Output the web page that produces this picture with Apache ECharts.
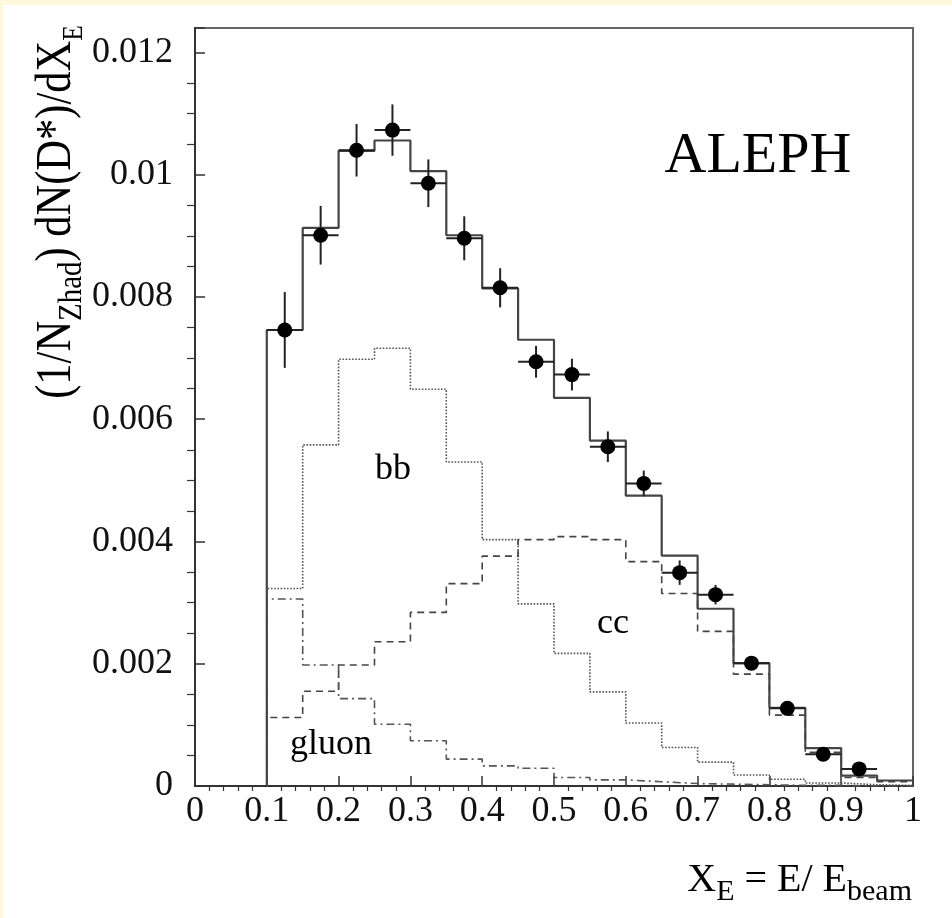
<!DOCTYPE html>
<html>
<head>
<meta charset="utf-8">
<script src="https://cdn.jsdelivr.net/npm/echarts@6/dist/echarts.min.js"></script>
<style>
  html, body { margin: 0; padding: 0; background: #fff8dc; }
  #panel { position: absolute; left: 3px; top: 5px; width: 949px; height: 913px; background: #ffffff; }
  #chart { position: absolute; left: 0; top: 0; width: 952px; height: 918px; }
</style>
</head>
<body>
<div id="panel"></div>
<div id="chart"></div>
<script>
// ---- data ----
const binEdges = [0.10,0.15,0.20,0.25,0.30,0.35,0.40,0.45,0.50,0.55,0.60,0.65,0.70,0.75,0.80,0.85,0.90,0.95,1.00];
const dataX   = [0.125,0.175,0.225,0.275,0.325,0.375,0.425,0.475,0.525,0.575,0.625,0.675,0.725,0.775,0.825,0.875,0.925];
const dataY   = [0.00746,0.00901,0.01040,0.01073,0.00986,0.00896,0.00815,0.00694,0.00673,0.00555,0.00495,0.00349,0.00313,0.00201,0.00127,0.00052,0.00028];
const dataErr = [0.00062,0.00048,0.00043,0.00042,0.00039,0.00036,0.00032,0.00026,0.00026,0.00025,0.00021,0.00020,0.00016,0.00010,0.00008,0.00008,0.00008];
const dataXErr = 0.025;
const totalMC = [0.00746,0.00913,0.01039,0.01056,0.01006,0.00901,0.00814,0.00730,0.00635,0.00565,0.00475,0.00377,0.00290,0.00201,0.00128,0.00062,0.00017,0.00009];
const bbMC    = [0.00323,0.00558,0.00698,0.00716,0.00649,0.00530,0.00403,0.00298,0.00217,0.00154,0.00103,0.00063,0.00039,0.00018,0.00011,0.00005,0.00002,0.00001];
const ccMC    = [0.00112,0.00155,0.00198,0.00236,0.00284,0.00331,0.00376,0.00403,0.00408,0.00403,0.00367,0.00315,0.00253,0.00183,0.00116,0.00055,0.00014,0.00007];
const gluonMC = [0.00306,0.00198,0.00143,0.00101,0.00074,0.00044,0.00033,0.00029,0.00014,0.00010,0.00007,0.00004,0.00003,0.00002,0.00001,0.00001,0.00000,0.00000];
const xTicks = [0,0.1,0.2,0.3,0.4,0.5,0.6,0.7,0.8,0.9,1];
const yTicks = [0,0.002,0.004,0.006,0.008,0.01,0.012];

function histData(vals) {
  const pts = [[binEdges[0], 0]];
  for (let i = 0; i < vals.length; i++) pts.push([binEdges[i], vals[i]]);
  pts.push([binEdges[binEdges.length - 1], vals[vals.length - 1]]);
  return pts;
}

const serif = "'Liberation Serif', 'Times New Roman', 'DejaVu Serif', serif";
const chart = echarts.init(document.getElementById('chart'), null, { renderer: 'canvas' });

function histSeries(vals, color, width, type) {
  return {
    type: 'line', data: histData(vals), step: 'end', showSymbol: false, symbol: 'none',
    lineStyle: { color: color, width: width, type: type }, silent: true, z: 3
  };
}

const option = {
  animation: false,
  backgroundColor: 'transparent',
  grid: { left: 195, right: 39, top: 28, bottom: 132, show: true, borderColor: '#666', borderWidth: 2, backgroundColor: 'transparent' },
  xAxis: {
    type: 'value', min: 0, max: 1, interval: 0.1,
    axisLine: { show: true, lineStyle: { color: '#333', width: 2 } },
    axisTick: { show: true, inside: true, length: 10, lineStyle: { color: '#333', width: 1.5 } },
    minorTick: { show: true, splitNumber: 5, length: -5, lineStyle: { color: '#333', width: 1.2 } },
    splitLine: { show: false },
    axisLabel: { fontFamily: serif, fontSize: 36, color: '#111', margin: 8,
      formatter: v => { const t = xTicks.find(k => Math.abs(k - v) < 1e-9); return t === undefined ? '' : String(t); } }
  },
  yAxis: {
    type: 'value', min: 0, max: 0.0124, interval: 0.002,
    axisLine: { show: true, lineStyle: { color: '#333', width: 2 } },
    axisTick: { show: true, inside: true, length: 10, lineStyle: { color: '#333', width: 1.5 } },
    minorTick: { show: true, splitNumber: 4, length: -8, lineStyle: { color: '#333', width: 1.2 } },
    splitLine: { show: false },
    axisLabel: { fontFamily: serif, fontSize: 36, color: '#111', margin: 22, showMaxLabel: false,
      formatter: v => { const t = yTicks.find(k => Math.abs(k - v) < 1e-9); return t === undefined ? '' : String(t); } }
  },
  series: [
    histSeries(bbMC, '#555', 1.6, 'dotted'),
    histSeries(ccMC, '#444', 1.6, [7, 5]),
    histSeries(gluonMC, '#555', 1.6, [8, 4, 2, 4]),
    histSeries(totalMC, '#444', 2.2, 'solid'),
    {
      type: 'custom', z: 5, silent: true,
      data: dataX.map((x, i) => [x, dataY[i], dataErr[i]]),
      renderItem: function (params, api) {
        const x = api.value(0), y = api.value(1), e = api.value(2);
        const pTop = api.coord([x, y + e]), pBot = api.coord([x, y - e]);
        const pL = api.coord([x - dataXErr, y]), pR = api.coord([x + dataXErr, y]);
        const st = { stroke: '#222', lineWidth: 2 };
        return { type: 'group', children: [
          { type: 'line', shape: { x1: pTop[0], y1: pTop[1], x2: pBot[0], y2: pBot[1] }, style: st },
          { type: 'line', shape: { x1: pL[0], y1: pL[1], x2: pR[0], y2: pR[1] }, style: st }
        ]};
      }
    },
    {
      type: 'scatter', data: dataX.map((x, i) => [x, dataY[i]]), symbol: 'circle', symbolSize: 15,
      itemStyle: { color: '#000', opacity: 1 }, z: 6, silent: true
    }
  ],
  graphic: [
    { type: 'text', x: 758, y: 157, z: 10,
      style: { text: 'ALEPH', font: '58px ' + serif, fill: '#000', align: 'center', verticalAlign: 'middle' } },
    { type: 'text', x: 393, y: 470, z: 10,
      style: { text: 'bb', font: '36px ' + serif, fill: '#000', align: 'center', verticalAlign: 'middle' } },
    { type: 'text', x: 613, y: 624, z: 10,
      style: { text: 'cc', font: '36px ' + serif, fill: '#000', align: 'center', verticalAlign: 'middle' } },
    { type: 'text', x: 331, y: 745, z: 10,
      style: { text: 'gluon', font: '36px ' + serif, fill: '#000', align: 'center', verticalAlign: 'middle' } },
    { type: 'text', x: 57, y: 212, rotation: Math.PI / 2, scaleX: 0.85, z: 10,
      style: {
        text: '{m|(1/N}{s|Zhad}{m|) dN(D*)/dX}{e|E}',
        align: 'center', verticalAlign: 'middle', fill: '#000',
        rich: {
          m: { fontFamily: serif, fontSize: 50, lineHeight: 56, fill: '#000' },
          s: { fontFamily: serif, fontSize: 34, lineHeight: 36, padding: [30, 0, 0, 0], fill: '#000' },
          e: { fontFamily: serif, fontSize: 30, lineHeight: 32, padding: [34, 0, 0, 0], fill: '#000' }
        }
      } },
    { type: 'text', x: 912, y: 880, z: 10,
      style: {
        text: '{m|X}{s|E}{m| = E/ E}{s|beam}',
        align: 'right', verticalAlign: 'middle', fill: '#000',
        rich: {
          m: { fontFamily: serif, fontSize: 40, lineHeight: 44, fill: '#000' },
          s: { fontFamily: serif, fontSize: 30, lineHeight: 32, padding: [24, 0, 0, 0], fill: '#000' }
        }
      } }
  ]
};
chart.setOption(option);
</script>
</body>
</html>
